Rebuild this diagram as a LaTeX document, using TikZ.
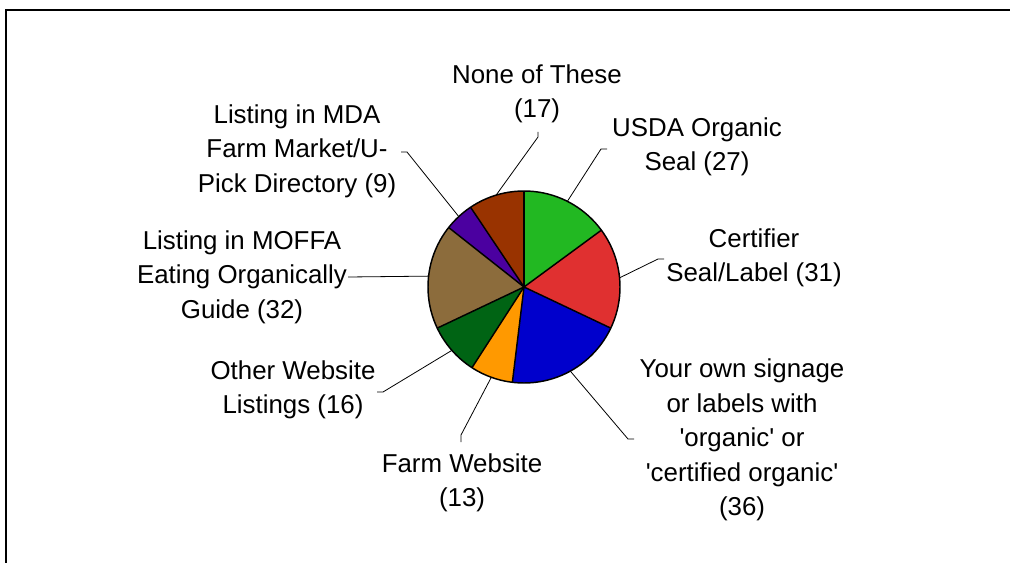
\documentclass[tikz,border=0pt]{standalone}
\usepackage{fontspec}
\setmainfont{Liberation Sans}[Ligatures=TeXOff]
\usetikzlibrary{positioning}

\definecolor{usdagreen}{HTML}{22B822}
\definecolor{certred}{HTML}{E03030}
\definecolor{ownblue}{HTML}{0000CC}
\definecolor{farmorange}{HTML}{FF9900}
\definecolor{otherdkgreen}{HTML}{006414}
\definecolor{moffabrown}{HTML}{8C6C3C}
\definecolor{mdapurple}{HTML}{4B00A0}
\definecolor{nonerust}{HTML}{993300}

\tikzset{
  slice/.style={draw=black, line width=1.1pt, line join=round},
  leader/.style={draw=black, line width=0.6pt},
  lbl/.style={align=center, inner sep=0pt, font=\fontsize{19.4}{25.9}\selectfont}
}

\begin{document}
\begin{tikzpicture}[x=0.75pt, y=-0.75pt]

\useasboundingbox (0,0) rectangle (1010,563);

% chart frame (runs off the right and bottom)
\draw[line width=1.5pt] (6,10) rectangle (1030,590);

% pie, 181 answers in all
\begin{scope}[shift={(524,287)}, yscale=-1]
\fill[usdagreen] (0,0) -- (90:96) arc[start angle=90, end angle=36.30, radius=96] -- cycle;
\fill[certred] (0,0) -- (36.30:96) arc[start angle=36.30, end angle=-25.36, radius=96] -- cycle;
\fill[ownblue] (0,0) -- (-25.36:96) arc[start angle=-25.36, end angle=-96.96, radius=96] -- cycle;
\fill[farmorange] (0,0) -- (-96.96:96) arc[start angle=-96.96, end angle=-122.82, radius=96] -- cycle;
\fill[otherdkgreen] (0,0) -- (-122.82:96) arc[start angle=-122.82, end angle=-154.64, radius=96] -- cycle;
\fill[moffabrown] (0,0) -- (-154.64:96) arc[start angle=-154.64, end angle=-218.29, radius=96] -- cycle;
\fill[mdapurple] (0,0) -- (-218.29:96) arc[start angle=-218.29, end angle=-236.19, radius=96] -- cycle;
\fill[nonerust] (0,0) -- (-236.19:96) arc[start angle=-236.19, end angle=-270, radius=96] -- cycle;

\foreach \a in {90, 36.30, -25.36, -96.96, -122.82, -154.64, -218.29, -236.19}
  \draw[slice] (0,0) -- (\a:96);
\draw[slice] (0,0) circle[radius=96];

% leader ends on the rim
\coordinate (usda-e) at (63.15:96);
\coordinate (cert-e) at (5.47:96);
\coordinate (own-e) at (-61.16:96);
\coordinate (farm-e) at (-109.9:96);
\coordinate (other-e) at (-138.7:96);
\coordinate (moffa-e) at (173.5:96);
\coordinate (mda-e) at (132.8:96);
\coordinate (none-e) at (106.9:96);
\end{scope}

% labels
\node[lbl] (none) at (537,94) {None of These\\(17)};
\node[lbl] (usda) at (697,147) {USDA Organic\\Seal (27)};
\node[lbl] (cert) at (754,258) {Certifier\\Seal/Label (31)};
\node[lbl] (own) at (742,440) {Your own signage\\or labels with\\'organic' or\\'certified organic'\\(36)};
\node[lbl] (farm) at (462,483) {Farm Website\\(13)};
\node[lbl] (other) at (293,390) {Other Website\\Listings (16)};
\node[lbl] (moffa) at (242,277) {Listing in MOFFA\\Eating Organically\\Guide (32)};
\node[lbl] (mda) at (297,151) {Listing in MDA\\Farm Market/U-\\Pick Directory (9)};

% leader bends
\coordinate (none-a) at (538,137);  \coordinate (none-b) at (538,132);
\coordinate (usda-a) at (601,149);  \coordinate (usda-b) at (607,149);
\coordinate (cert-a) at (658,259);  \coordinate (cert-b) at (664,259);
\coordinate (own-a) at (628,439);   \coordinate (own-b) at (634,439);
\coordinate (farm-a) at (461,435);  \coordinate (farm-b) at (461,442);
\coordinate (other-a) at (383,392); \coordinate (other-b) at (377,392);
\coordinate (moffa-a) at (348,277);
\coordinate (mda-a) at (407,152);   \coordinate (mda-b) at (401,152);

\draw[leader] (none-e) -- (none-a) -- (none-b);
\draw[leader] (usda-e) -- (usda-a) -- (usda-b);
\draw[leader] (cert-e) -- (cert-a) -- (cert-b);
\draw[leader] (own-e) -- (own-a) -- (own-b);
\draw[leader] (farm-e) -- (farm-a) -- (farm-b);
\draw[leader] (other-e) -- (other-a) -- (other-b);
\draw[leader] (moffa-e) -- (moffa-a);
\draw[leader] (mda-e) -- (mda-a) -- (mda-b);

\end{tikzpicture}
\end{document}
